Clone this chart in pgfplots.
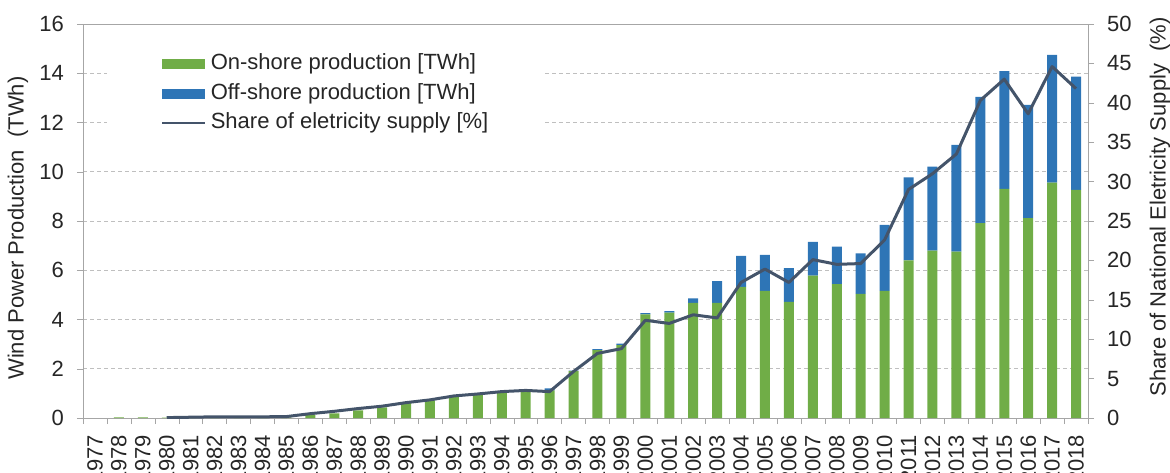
\documentclass[border=0pt]{standalone}
\usepackage{fontspec}
\setmainfont{Liberation Sans}
\usepackage{pgfplots}
\pgfplotsset{compat=1.18}
\usepackage{pgfplotstable}

\definecolor{onshore}{RGB}{112,173,71}
\definecolor{offshore}{RGB}{46,117,182}
\definecolor{shareline}{RGB}{68,84,106}
\definecolor{framegray}{RGB}{166,166,166}
\definecolor{gridgray}{RGB}{191,191,191}
\newcommand\chartfont{\fontsize{11bp}{13bp}\selectfont}

% idx 0 = 1977
\pgfplotstableread{
idx year on off
0 1977 0.00 0.00
1 1978 0.03 0.00
2 1979 0.03 0.00
3 1980 0.02 0.00
4 1981 0.02 0.00
5 1982 0.02 0.00
6 1983 0.02 0.00
7 1984 0.02 0.00
8 1985 0.03 0.00
9 1986 0.12 0.00
10 1987 0.19 0.00
11 1988 0.31 0.00
12 1989 0.43 0.00
13 1990 0.60 0.00
14 1991 0.72 0.01
15 1992 0.87 0.02
16 1993 0.93 0.03
17 1994 1.05 0.03
18 1995 1.09 0.05
19 1996 1.12 0.08
20 1997 1.90 0.02
21 1998 2.76 0.04
22 1999 2.96 0.06
23 2000 4.21 0.05
24 2001 4.28 0.06
25 2002 4.68 0.18
26 2003 4.68 0.88
27 2004 5.33 1.25
28 2005 5.16 1.46
29 2006 4.72 1.37
30 2007 5.78 1.37
31 2008 5.44 1.52
32 2009 5.04 1.65
33 2010 5.16 2.68
34 2011 6.40 3.37
35 2012 6.80 3.41
36 2013 6.76 4.33
37 2014 7.91 5.13
38 2015 9.30 4.79
39 2016 8.12 4.60
40 2017 9.56 5.19
41 2018 9.26 4.60
}\wind

\pgfplotstableread{
idx year share
3 1980 0.05
4 1981 0.10
5 1982 0.15
6 1983 0.15
7 1984 0.15
8 1985 0.18
9 1986 0.55
10 1987 0.85
11 1988 1.20
12 1989 1.50
13 1990 1.95
14 1991 2.30
15 1992 2.80
16 1993 3.05
17 1994 3.35
18 1995 3.50
19 1996 3.35
20 1997 5.90
21 1998 8.20
22 1999 8.80
23 2000 12.4
24 2001 12.0
25 2002 13.1
26 2003 12.7
27 2004 17.2
28 2005 18.9
29 2006 17.2
30 2007 20.1
31 2008 19.5
32 2009 19.6
33 2010 22.6
34 2011 29.0
35 2012 31.0
36 2013 33.5
37 2014 40.3
38 2015 43.0
39 2016 38.6
40 2017 44.6
41 2018 41.8
}\share

\pgfplotsset{
  every axis/.append style={
    scale only axis, width=502.5bp, height=197bp,
    xmin=-0.5, xmax=41.5,
    tick label style={font=\chartfont, text=black!85},
    label style={font=\chartfont, text=black!85},
    /pgf/number format/assume math mode=true,
    tick align=outside,
    major tick length=3bp,
  },
}

\begin{document}
\begin{tikzpicture}
\begin{axis}[
  name=ax,
  ybar stacked,
  bar width=5bp,
  ymin=0, ymax=16,
  ytick={0,2,...,16},
  ytick pos=left,
  xtick={0,...,41},
  xticklabels={1977,1978,1979,1980,1981,1982,1983,1984,1985,1986,1987,1988,1989,1990,1991,1992,1993,1994,1995,1996,1997,1998,1999,2000,2001,2002,2003,2004,2005,2006,2007,2008,2009,2010,2011,2012,2013,2014,2015,2016,2017,2018},
  xtick pos=bottom,
  major x tick style={draw=none},
  minor xtick={-0.5,0.5,...,41.5},
  minor x tick style={framegray},
  minor tick length=3bp,
  xticklabel style={rotate=90, anchor=east},
  xticklabel shift=2bp,
  yticklabel shift=3bp,
  axis line style={framegray},
  ytick style={framegray},
  ymajorgrids,
  major grid style={gridgray, dash pattern=on 2bp off 1.5bp, line width=0.5bp},
  ylabel={Wind Power Production~ (TWh)},
  ylabel style={at={(axis description cs:-0.0647,0.482)}, anchor=center},
  legend cell align=left,
  legend style={at={(axis description cs:0.0239,0.959)}, anchor=north west,
    draw=none, fill=white, inner xsep=27bp, inner ysep=6.5bp, row sep=4.25bp,
    font=\chartfont, text=black!85,
    nodes={inner sep=0pt, text height=8bp, text depth=2.5bp}},
]
\addplot[fill=onshore, draw=none,
  legend image code/.code={\fill[onshore] (0bp,-2.5bp) rectangle (21.5bp,2.5bp); \path (24bp,0bp);}]
  table[x=idx, y=on]{\wind};
\addlegendentry{\makebox[140bp][l]{On-shore production [TWh]}}
\addplot[fill=offshore, draw=none,
  legend image code/.code={\fill[offshore] (0bp,-2.5bp) rectangle (21.5bp,2.5bp); \path (24bp,0bp);}]
  table[x=idx, y=off]{\wind};
\addlegendentry{\makebox[140bp][l]{Off-shore production [TWh]}}
\addlegendimage{legend image code/.code={\draw[shareline, line width=1bp] (0bp,0bp) -- (21.5bp,0bp); \path (24bp,0bp);}}
\addlegendentry{\makebox[140bp][l]{Share of eletricity supply [\%]}}
\end{axis}
\begin{axis}[
  ymin=0, ymax=50,
  ytick={0,5,...,50},
  axis y line*=right,
  axis x line=none,
  y axis line style={framegray},
  ytick style={framegray},
  yticklabel shift=3bp,
  ylabel={Share of National Eletricity Supply~ (\%)},
  ylabel style={at={(axis description cs:1.0716,0.536)}, anchor=center},
]
\addplot[shareline, line width=1.5bp, line join=round, mark=none] table[x=idx, y=share]{\share};
\end{axis}
\pgfresetboundingbox
\useasboundingbox ([xshift=-41.5bp,yshift=-27.5bp]ax.south west) rectangle ([xshift=41bp,yshift=12bp]ax.north east);
\end{tikzpicture}
\end{document}
